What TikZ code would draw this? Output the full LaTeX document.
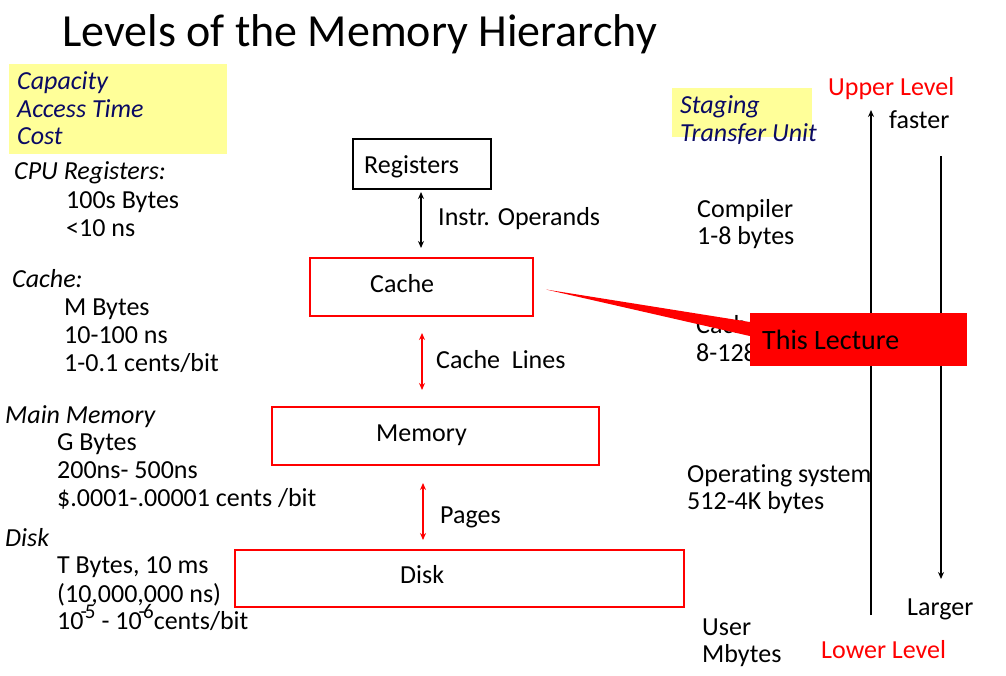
\documentclass[tikz,border=0pt]{standalone}
\usepackage{fontspec}
\setmainfont[Ligatures=NoCommon]{Carlito}
\usetikzlibrary{arrows.meta}
\definecolor{notepad}{RGB}{255,255,153}
\definecolor{navyink}{RGB}{10,10,100}
\definecolor{hired}{RGB}{255,0,0}
% raised exponent as set in the slide text
\newcommand{\hiexp}[1]{\kern-3pt\raisebox{11pt}{\fontsize{21}{22}\selectfont -\kern-2pt #1}}
\begin{document}
\begin{tikzpicture}[x=1pt,y=-1pt,
  txt/.style={anchor=base west,inner sep=0pt,font=\fontsize{26}{28}\selectfont},
  head/.style={txt,font=\fontsize{26}{28}\selectfont\itshape},
  navyhead/.style={head,text=navyink},
  redtxt/.style={txt,text=hired},
  note/.style={fill=notepad,draw=none},
  regbox/.style={draw=black,line width=2.8pt,inner sep=0pt},
  levelbox/.style={draw=hired,line width=2.8pt,inner sep=0pt},
  link/.style={{Stealth[length=7pt,width=6pt]}-{Stealth[length=7pt,width=6pt]},line width=1.2pt},
  axis/.style={-{Stealth[length=7pt,width=6pt]},line width=1.2pt}]
\useasboundingbox (0,0) rectangle (1006,675);

% title
\node[anchor=base west,inner sep=0pt,font=\fontsize{46}{50}\selectfont] (title) at (62,46) {Levels of the Memory Hierarchy};

% left column: legend and per-level figures
\fill[note] (9,64) rectangle (227,154);
\node[navyhead] (cap) at (17,89) {Capacity};
\node[navyhead] (acc) at (17,117) {Access Time};
\node[navyhead] (cost) at (17,144) {Cost};

\node[head] (hreg) at (14,179) {CPU Registers:};
\node[txt] (reg1) at (66,208) {100s Bytes};
\node[txt] (reg2) at (66,236) {<10 ns};

\node[head] (hcache) at (12,287) {Cache:};
\node[txt] (ca1) at (64,315) {M Bytes};
\node[txt] (ca2) at (64,343) {10-100 ns};
\node[txt] (ca3) at (64,371) {1-0.1 cents/bit};

\node[head] (hmem) at (5,423) {Main Memory};
\node[txt] (me1) at (57,450) {G Bytes};
\node[txt] (me2) at (57,478) {200ns- 500ns};
\node[txt] (me3) at (57,506) {\$.0001-.00001 cents /bit};

\node[head] (hdisk) at (5,546) {Disk};
\node[txt] (di1) at (57,573) {T Bytes, 10 ms};
\node[txt] (di2) at (57,602) {(10,000,000 ns)};
\node[txt] (di3) at (57,629) {10\hiexp{5} - 10\hiexp{6}cents/bit};

% the hierarchy
\node[regbox,minimum width=138pt,minimum height=50pt] (reg) at (422,164) {};
\node[txt] (regt) at (364,173) {Registers};
\node[levelbox,minimum width=223pt,minimum height=58pt] (cache) at (421.5,287) {};
\node[txt] (cachet) at (370,292) {Cache};
\node[levelbox,minimum width=327pt,minimum height=58pt] (mem) at (435.5,436) {};
\node[txt] (memt) at (376,441) {Memory};
\node[levelbox,minimum width=449pt,minimum height=57pt] (disk) at (459.5,578.5) {};
\node[txt] (diskt) at (400,583) {Disk};

% transfers between levels
\coordinate (a1) at (421,192);
\coordinate (a2) at (421,248);
\draw[link] (a1) -- (a2);
\node[txt] (l1) at (438,225) {Instr. Operands};
\coordinate (b1) at (422,333);
\coordinate (b2) at (422,390);
\draw[link,draw=hired,fill=hired] (b1) -- (b2);
\node[txt] (l2) at (436,368) {Cache\ \ Lines};
\coordinate (c1) at (423,483);
\coordinate (c2) at (423,540);
\draw[link,draw=hired,fill=hired] (c1) -- (c2);
\node[txt] (l3) at (440,523) {Pages};

% right column: staging units
\fill[note] (672,88) rectangle (812,137);
\node[navyhead] (st1) at (680,113) {Staging};
\node[navyhead] (st2) at (680,141) {Transfer Unit};
\node[txt] (u1) at (697,217) {Compiler};
\node[txt] (u2) at (697,244) {1-8 bytes};
\node[txt] (u3) at (696,333) {Cache cntl};
\node[txt] (u4) at (696,361) {8-128 bytes};
\node[txt] (u5) at (687,482) {Operating system};
\node[txt] (u6) at (687,509) {512-4K bytes};
\node[txt] (u7) at (702,635) {User};
\node[txt] (u8) at (702,662) {Mbytes};

% direction axes
\node[redtxt] (up) at (828,95) {Upper Level};
\node[redtxt] (low) at (821,658) {Lower Level};
\node[txt] (fast) at (889,128) {faster};
\node[txt] (large) at (907,615) {Larger};
\coordinate (f0) at (871,615);
\coordinate (f1) at (871,110);
\draw[axis] (f0) -- (f1);
\coordinate (g0) at (941,156);
\coordinate (g1) at (941,579);
\draw[axis] (g0) -- (g1);

% callout
\coordinate (tipc) at (546,289.5);
\node[fill=hired,minimum width=217pt,minimum height=53pt,inner sep=0pt] (lect) at (858.5,339.5) {};
\fill[hired] (tipc) -- (lect.west |- 0,322) -- (lect.west |- 0,336) -- cycle;
\node[txt,font=\fontsize{28}{30}\selectfont] (lectt) at (762,349) {This Lecture};
\end{tikzpicture}
\end{document}
